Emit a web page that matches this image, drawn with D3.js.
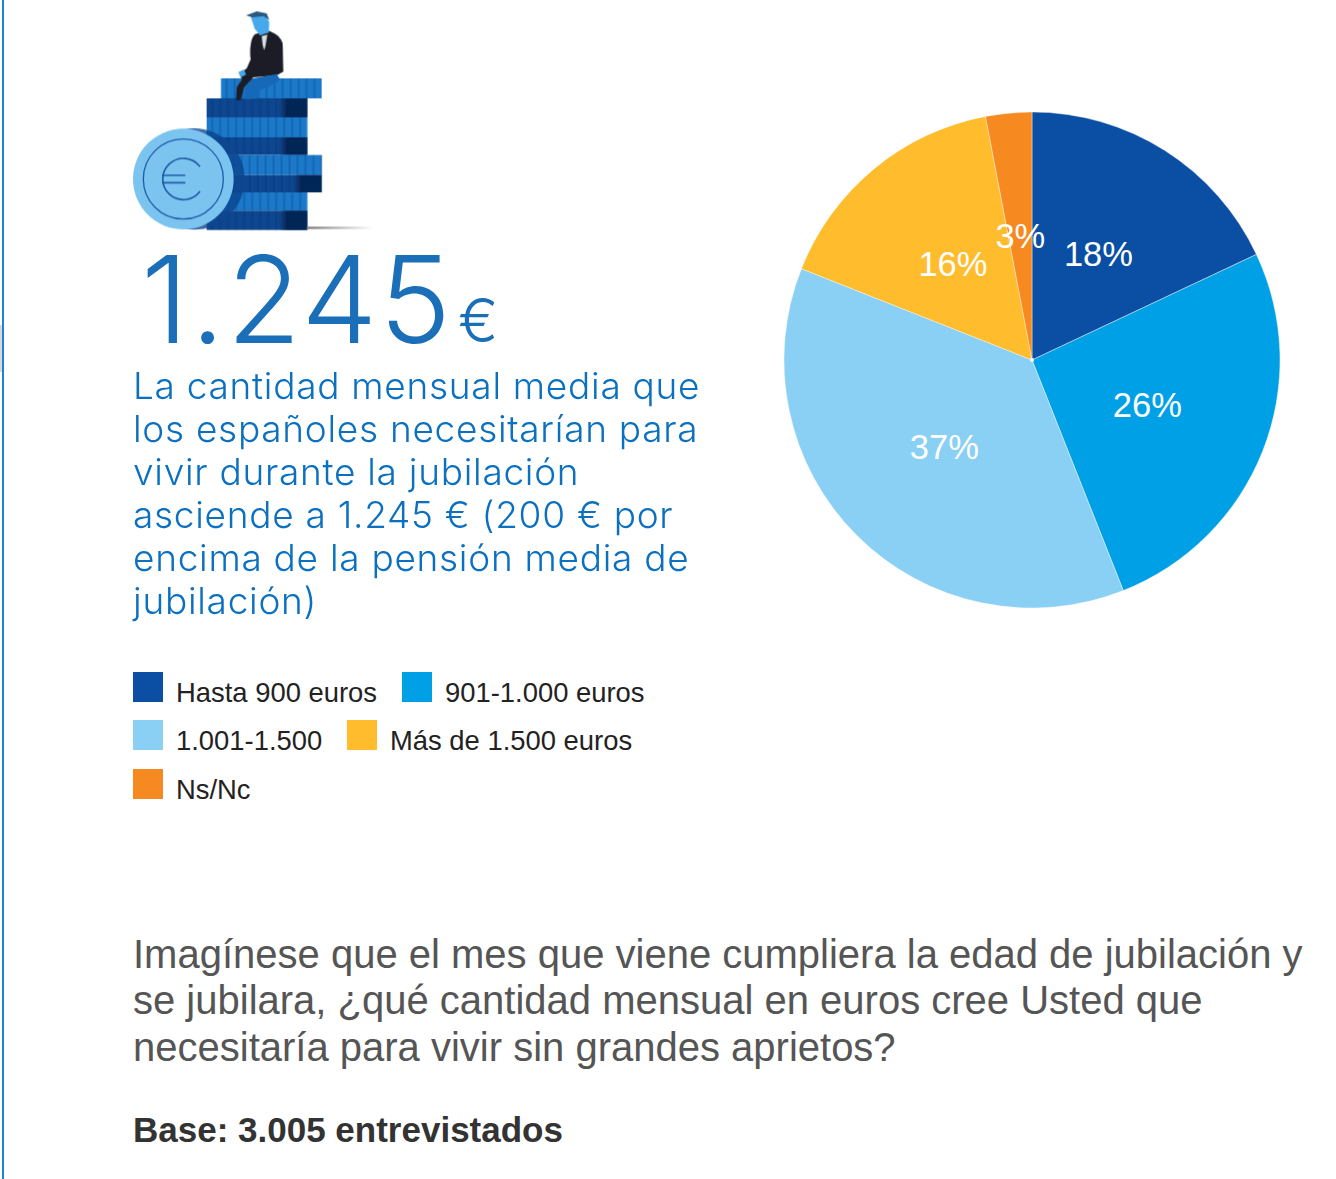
<!DOCTYPE html>
<html>
<head>
<meta charset="utf-8">
<script src="https://cdn.jsdelivr.net/npm/d3@7"></script>
<style>
  html, body { margin: 0; padding: 0; background: #fff; }
  svg { display: block; }
</style>
</head>
<body>
<svg id="chart" width="1336" height="1179"></svg>
<script>
// Chart data
var categories = ["Hasta 900 euros", "901-1.000 euros", "1.001-1.500", "Más de 1.500 euros", "Ns/Nc"];
var values = [18, 26, 37, 16, 3];
var colors = ["#0a4fa3", "#00a0e6", "#89d0f4", "#ffbc2d", "#f6891f"];

var headline = "1.245";
var bodyLines = [
  "La cantidad mensual media que",
  "los españoles necesitarían para",
  "vivir durante la jubilación",
  "asciende a 1.245 € (200 € por",
  "encima de la pensión media de",
  "jubilación)"
];
var questionLines = [
  "Imagínese que el mes que viene cumpliera la edad de jubilación y",
  "se jubilara, ¿qué cantidad mensual en euros cree Usted que",
  "necesitaría para vivir sin grandes aprietos?"
];
var baseNote = "Base: 3.005 entrevistados";

var svg = d3.select("#chart");

// Page edge line and the small grey tab on it
svg.append("rect").attr("x", 0).attr("y", 325).attr("width", 3).attr("height", 47).attr("fill", "#d9d9d9");
svg.append("rect").attr("x", 2).attr("y", 0).attr("width", 2).attr("height", 1179).attr("fill", "#1f82d6");

// Illustration, drawn in 3x coordinates
var art = svg.append("g").attr("transform", "translate(120,0) scale(0.3333)");
var defs = svg.append("defs");
defs.append("filter").attr("id", "soft").append("feGaussianBlur").attr("stdDeviation", 1.8);
var shade = defs.append("linearGradient").attr("id", "shade");
shade.append("stop").attr("offset", "0.72").attr("stop-color", "#05204a").attr("stop-opacity", 0);
shade.append("stop").attr("offset", "0.8").attr("stop-color", "#05204a").attr("stop-opacity", 0.85);
var floor = defs.append("linearGradient").attr("id", "floor");
floor.append("stop").attr("offset", "0").attr("stop-color", "#777");
floor.append("stop").attr("offset", "1").attr("stop-color", "#fff");

art = art.append("g").attr("filter", "url(#soft)");
var bands = [
  [303, 235, 302, 60, "#1b78c9"],
  [260, 295, 302, 57, "#0d468f"],
  [260, 352, 302, 60, "#1b78c9"],
  [260, 412, 302, 53, "#0d468f"],
  [300, 465, 305, 60, "#1b78c9"],
  [300, 525, 305, 52, "#0d468f"],
  [260, 577, 302, 55, "#1b78c9"],
  [260, 632, 302, 58, "#0d468f"]
];
bands.forEach(function (b) {
  art.append("rect").attr("x", b[0]).attr("y", b[1]).attr("width", b[2]).attr("height", b[3]).attr("fill", b[4]);
  if (b[4] === "#0d468f") {
    art.append("rect").attr("x", b[0]).attr("y", b[1]).attr("width", b[2]).attr("height", b[3]).attr("fill", "url(#shade)");
  }
  for (var sx = b[0] + 14; sx < b[0] + b[2]; sx += 24) {
    art.append("rect").attr("x", sx).attr("y", b[1]).attr("width", 5).attr("height", b[3])
      .attr("fill", "#06336f").attr("opacity", 0.28);
  }
});
art.append("rect").attr("x", 560).attr("y", 680).attr("width", 200).attr("height", 7).attr("fill", "url(#floor)");

// Man on the stack
art.append("path").attr("d", "M405 102 C392 112 388 150 392 178 L380 205 L358 222 L366 238 L350 262 L348 300 L362 300 L372 262 L400 232 L470 226 L490 215 L488 130 C480 105 460 98 445 92 Z").attr("fill", "#1c1f26");
art.append("path").attr("d", "M372 298 L375 262 L400 235 L470 222 L480 238 L445 262 L420 268 L418 295 Z").attr("fill", "#1868b8");
art.append("path").attr("d", "M425 108 L442 104 L436 140 L432 150 L428 135 Z").attr("fill", "#d8dde2");
art.append("path").attr("d", "M392 50 L432 42 L448 66 L446 98 L420 106 L404 86 Z").attr("fill", "#45a9ec");
art.append("path").attr("d", "M378 46 L410 34 L440 40 L448 60 L430 48 L398 52 Z").attr("fill", "#2a5a80");
art.append("path").attr("d", "M355 216 L372 208 L378 224 L362 232 Z").attr("fill", "#45a9ec");

// Euro coin
art.append("circle").attr("cx", 222).attr("cy", 537).attr("r", 152).attr("fill", "#0d468f").attr("opacity", 0.8);
art.append("circle").attr("cx", 190).attr("cy", 537).attr("r", 151).attr("fill", "#7cc4f0");
art.append("circle").attr("cx", 190).attr("cy", 537).attr("r", 120).attr("fill", "none").attr("stroke", "#1f5da6").attr("stroke-width", 4);
art.append("path").attr("d", "M240 500 A62 62 0 1 0 240 574").attr("fill", "none").attr("stroke", "#1f5da6").attr("stroke-width", 5);
art.append("path").attr("d", "M126 526 H196 M126 548 H196").attr("fill", "none").attr("stroke", "#1f5da6").attr("stroke-width", 5);

// Headline and description
var lightFont = "Inter, 'Open Sans', sans-serif";
var arial = "'Liberation Sans', Arial, sans-serif";

svg.append("text").attr("x", 141).attr("y", 343)
  .attr("font-family", lightFont).attr("font-weight", 300).attr("font-size", 121)
  .attr("letter-spacing", 2)
  .attr("fill", "#1a6fb8").text(headline);
svg.append("text").attr("x", 458).attr("y", 342)
  .attr("font-family", lightFont).attr("font-weight", 300).attr("font-size", 60)
  .attr("fill", "#1a6fb8").text("€");

svg.append("g").selectAll("text").data(bodyLines).join("text")
  .attr("x", 133)
  .attr("y", function (d, i) { return 399 + i * 42.9; })
  .attr("font-family", lightFont).attr("font-weight", 300).attr("font-size", 37)
  .attr("letter-spacing", 0.72)
  .attr("fill", "#0a70bf")
  .text(function (d) { return d; });

// Pie
var cx = 1032, cy = 360, radius = 248;
var pie = d3.pie().sort(null).value(function (d) { return d; });
var arc = d3.arc().innerRadius(0).outerRadius(radius);
var pieG = svg.append("g").attr("transform", "translate(" + cx + "," + cy + ")");
var arcs = pie(values);

pieG.selectAll("path").data(arcs).join("path")
  .attr("d", arc)
  .attr("fill", function (d, i) { return colors[i]; })
  .attr("stroke", "#fff")
  .attr("stroke-width", 0.4);
pieG.append("circle").attr("r", 2).attr("fill", "#fff");

pieG.selectAll("text").data(arcs).join("text")
  .attr("transform", function (d) {
    var a = (d.startAngle + d.endAngle) / 2;
    var r = radius * 0.5;
    return "translate(" + (Math.sin(a) * r) + "," + (-Math.cos(a) * r) + ")";
  })
  .attr("text-anchor", "middle")
  .attr("dy", "0.32em")
  .attr("font-family", arial)
  .attr("font-size", 34.5)
  .attr("fill", "#fff")
  .text(function (d) { return d.value + "%"; });

// Legend
var legendPos = [[133, 672], [402, 672], [133, 720], [347, 720], [133, 769]];
var legend = svg.append("g").selectAll("g").data(categories).join("g")
  .attr("transform", function (d, i) { return "translate(" + legendPos[i][0] + "," + legendPos[i][1] + ")"; });
legend.append("rect").attr("width", 30).attr("height", 30)
  .attr("fill", function (d, i) { return colors[i]; });
legend.append("text").attr("x", 43).attr("y", 30)
  .attr("font-family", arial).attr("font-size", 27.4).attr("fill", "#222")
  .text(function (d) { return d; });

// Question and base
svg.append("g").selectAll("text").data(questionLines).join("text")
  .attr("x", 133)
  .attr("y", function (d, i) { return 967.6 + i * 46.7; })
  .attr("font-family", arial).attr("font-size", 40).attr("fill", "#555")
  .text(function (d) { return d; });

svg.append("text").attr("x", 133).attr("y", 1142)
  .attr("font-family", arial).attr("font-weight", 700).attr("font-size", 35).attr("fill", "#333")
  .text(baseNote);
</script>
</body>
</html>
